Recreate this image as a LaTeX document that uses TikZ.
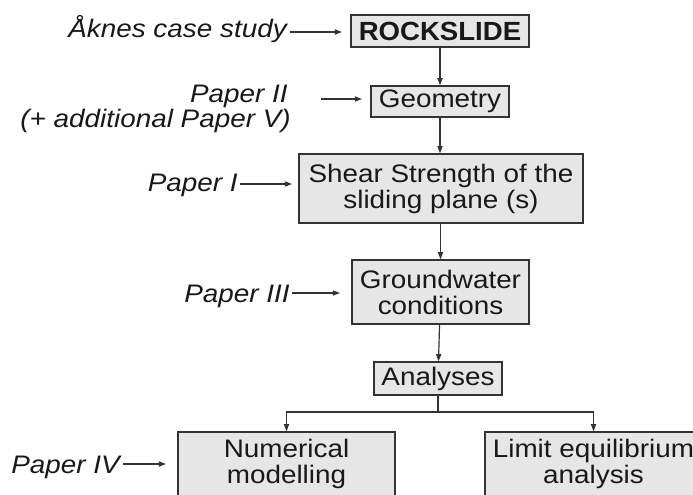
\documentclass[tikz,border=0pt]{standalone}
\usepackage{fontspec}
\setmainfont{Liberation Sans}[FakeStretch=1.10]
\newfontfamily\rockfont{Liberation Sans}[FakeStretch=1.05]
\usetikzlibrary{arrows.meta}
\definecolor{boxfill}{HTML}{E6E6E7}
\definecolor{ink}{HTML}{1A1718}
\definecolor{edge}{HTML}{333333}
\begin{document}
\begin{tikzpicture}[x=0.75pt,y=-0.75pt,
  box/.style={draw=edge, line width=1.05pt, fill=boxfill, text=ink, inner sep=0pt, align=center,
    font=\fontsize{19pt}{19.5pt}\selectfont},
  lab/.style={text=ink, inner sep=0pt, anchor=base east,
    font=\fontsize{19pt}{19.5pt}\selectfont\itshape},
  arr/.style={draw=edge, line width=0.9pt, -{Triangle[length=5.4pt,width=3.9pt]}},
  con/.style={draw=edge, line width=0.9pt}]
\useasboundingbox (0,0) rectangle (693,494);
\clip (0,0) rectangle (693,494);
% boxes
\node[box, minimum width=133.5pt, minimum height=24pt,
  font=\fontsize{19.7pt}{20pt}\rockfont\bfseries] (rock) at (440,31) {ROCKSLIDE};
\node[box, minimum width=103.5pt, minimum height=23.25pt] (geo) at (440,101.5) {Geometry};
\node[box, minimum width=213pt, minimum height=51.75pt] (shear) at (441,188.5) {Shear Strength of the\\sliding plane (s)};
\node[box, minimum width=132.75pt, minimum height=48pt] (ground) at (440.5,292) {Groundwater\\conditions};
\node[box, minimum width=96pt, minimum height=24.75pt] (anal) at (438,378.5) {Analyses};
\node[box, minimum width=162.75pt, minimum height=48pt] (num) at (286.5,464) {Numerical\\modelling};
\node[box, minimum width=162.75pt, minimum height=48pt] (lim) at (593.5,464) {Limit equilibrium\\analysis};
% labels
\node[lab] (l1) at (287,37) {Åknes case study};
\node[lab] (l2a) at (288,102) {Paper II};
\node[lab] (l2b) at (291,127) {(+ additional Paper V)};
\node[lab] (l3) at (238,191) {Paper I};
\node[lab] (l4) at (290,302) {Paper III};
\node[lab] (l5) at (120,473) {Paper IV};
% arrow heads positions
\coordinate (h1) at (342,32);
\coordinate (h2) at (362,99);
\coordinate (h3) at (292,184);
\coordinate (h4) at (340,293);
\coordinate (h5) at (166,464);
\coordinate (br) at (438,412);
% label arrows
\draw[arr] ([xshift=2.25pt]l1.east |- h1) -- (h1);
\draw[arr] ([xshift=24.75pt]l2a.east |- h2) -- (h2);
\draw[arr] ([xshift=1.5pt]l3.east |- h3) -- (h3);
\draw[arr] ([xshift=1.5pt]l4.east |- h4) -- (h4);
\draw[arr] ([xshift=2.25pt]l5.east |- h5) -- (h5);
% flow
\draw[arr] (rock) -- (geo);
\draw[arr] (geo) -- (geo.south |- shear.north);
\draw[arr] (shear.south -| ground.north) -- (ground);
\draw[arr] (ground) -- (anal);
\draw[con] (anal) -- (br);
\draw[arr] (br) -| (num.north);
\draw[arr] (br) -| (lim.north);
\end{tikzpicture}
\end{document}
